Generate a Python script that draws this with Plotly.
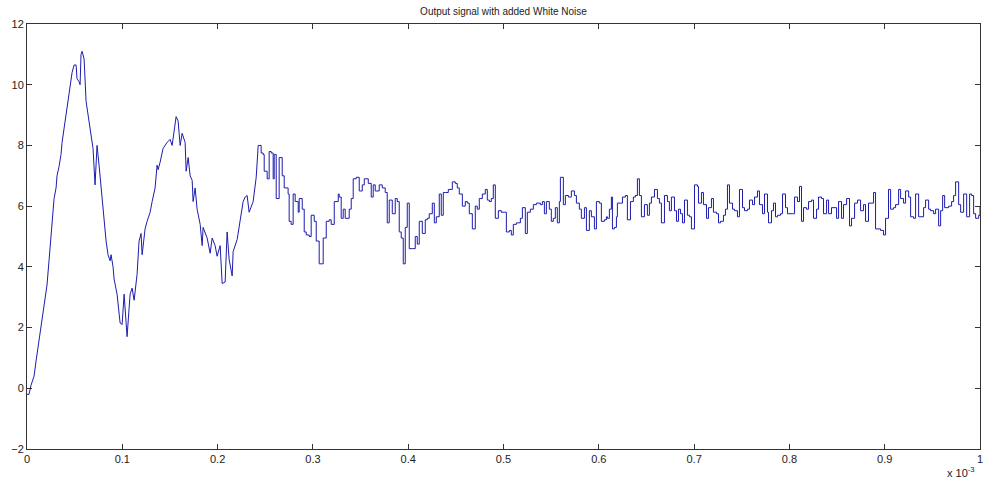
import plotly.graph_objects as go

# time in microseconds (axis shows seconds x 10^-3)
t_us = [0, 2.1, 4.2, 7.4, 9.5, 12.6, 14.7, 17.9, 21, 23.1, 25.2, 27.3, 28.4, 30.5, 31.5, 33.6, 35.7, 36.8, 38.9, 41,
        42, 44.1, 46.2, 47.3, 49.4, 51.5, 52.5, 54.6, 55.7, 56.7, 57.8, 59.9, 62, 64, 67.2, 69.3, 71.4, 73.5, 75.6, 78.8,
        80.9, 83, 85, 87.2, 88.2, 90.3, 91.4, 94.5, 97.7, 99.8, 101.9, 102.9, 105, 108.2, 110.3, 112.4, 115.5, 117.6, 119.7, 120.8,
        123.9, 126, 129.2, 131.3, 134.4, 136.5, 137.6, 139.7, 142.8, 147, 150.2, 152.3, 153.3, 156.5, 158.6, 160.7, 162.8, 165.9, 167, 169.1,
        171.2, 173.3, 174.3, 176.4, 178.5, 181.7, 183.8, 184.8, 189, 192.2, 194.3, 197.4, 199.5, 202.7, 204.8, 207.9, 210, 212.1, 215.3, 216.3,
        220.5, 223.7, 226.8, 228.9, 231, 233.1, 237.3, 240.5, 242.6, 245.7, 247.8, 248.9, 252, 254.1, 256.2, 258.3, 259.4, 261.5, 264.6, 267.8,
        269.9, 274, 275.1, 277.2, 279.3, 281.4, 284.6, 285.6, 288.8, 290.9, 293, 296.1, 298.2, 301.4, 303.5, 306.6, 309.8, 310.8, 314, 317.1,
        319.2, 322.4, 326.6, 327.6, 329.7, 331.8, 333.9, 338.1, 340.2, 342.3, 345.5, 348.6, 351.8, 353.9, 358.1, 361.2, 363.3, 365.4, 369.6, 372.8,
        375.9, 378, 380.1, 383.3, 386.4, 388.5, 390.6, 392.7, 394.8, 396.9, 399, 401.1, 404.3, 407.4, 409.5, 411.6, 414.8, 417.9, 420, 422.1,
        425.3, 427.4, 429.5, 432.6, 434.7, 436.8, 438.9, 442.1, 446.3, 449.4, 451.5, 453.6, 456.8, 459.9, 462, 464.1, 467.3, 470.4, 472.5, 474.6,
        477.8, 480.9, 483, 485.1, 487.2, 489.3, 491.4, 494.6, 497.7, 500.9, 503, 506.1, 508.2, 510.3, 513.5, 517.7, 519.8, 522.9, 525, 528.2,
        531.3, 534.5, 538.7, 540.8, 542.9, 545, 548.1, 550.2, 552.3, 554.4, 556.5, 558.6, 559.7, 562.8, 564.9, 568.1, 571.2, 574.4, 576.5, 579.6,
        581.7, 584.9, 587, 590.1, 592.2, 595.4, 597.5, 600.6, 602.7, 605.9, 608, 609, 611.1, 613.2, 614.3, 616.4, 618.5, 619.5, 622.7, 624.8,
        627.9, 630, 633.2, 636.3, 638.4, 640.5, 642.6, 644.7, 647.9, 651, 653.1, 655.2, 658.4, 661.5, 663.6, 665.7, 668.9, 672, 674.1, 676.2,
        679.4, 681.5, 683.6, 685.7, 687.8, 689.9, 693, 695.1, 697.2, 700.4, 703.5, 704.6, 707.7, 709.8, 713, 715.1, 718.2, 720.3, 723.5, 725.6,
        727.7, 730.8, 732.9, 735, 737.1, 740.3, 742.4, 745.5, 747.6, 750.8, 752.9, 756, 758.1, 761.3, 763.4, 766.5, 768.6, 771.8, 773.9, 777,
        778.1, 781.2, 783.3, 785.4, 787.5, 790.7, 792.8, 795.9, 798, 803.3, 805.4, 808.5, 810.6, 812.7, 814.8, 818, 820.1, 823.2, 825.3, 828.5,
        830.6, 833.7, 835.8, 839, 841.1, 844.2, 849.5, 851.6, 854.7, 856.8, 860, 863.1, 865.2, 868.4, 871.5, 874.7, 877.8, 879.9, 883, 888.3,
        890.4, 895.7, 898.8, 900.9, 904, 906.2, 909.3, 911.4, 914.6, 916.7, 919.8, 921.9, 925.1, 927.2, 930.3, 932.4, 935.6, 940.8, 942.9, 946.1,
        948.2, 951.3, 953.4, 956.6, 958.7, 960.8, 962.9, 967.1, 970.2, 972.3, 974.4, 977.6, 979.7, 982.8, 986, 989.1, 991.2, 993.3, 995.4, 998.6,
        1000]

signal = [-0.2, -0.2, 0.1, 0.4, 0.9, 1.55, 2.1, 2.7, 3.4, 4.2, 5.1, 5.8, 6.25, 6.6, 7.0, 7.3, 7.7, 8.1, 8.55, 9.0,
          9.3, 9.7, 10.1, 10.4, 10.65, 10.65, 10.2, 10.1, 10.0, 11.0, 11.1, 10.85, 9.45, 9.0, 8.45, 7.9, 6.7, 8.0, 7.35, 6.15,
          5.4, 4.85, 4.4, 4.2, 4.4, 4.0, 3.6, 3.1, 2.15, 2.1, 3.1, 2.7, 1.7, 3.1, 3.3, 2.9, 3.75, 4.85, 5.1, 4.4,
          5.25, 5.5, 5.8, 6.15, 6.6, 7.35, 7.2, 7.45, 7.9, 8.1, 8.2, 8.0, 8.2, 8.95, 8.8, 8.0, 8.4, 8.1, 7.15, 7.6,
          7.0, 6.85, 6.15, 6.6, 5.9, 5.4, 4.7, 5.3, 4.95, 4.45, 4.95, 4.7, 4.35, 4.7, 3.45, 3.5, 5.15, 4.25, 3.7, 4.5,
          4.9, 5.5, 6.15, 6.3, 6.35, 5.8, 6.15, 6.95, 8.0, 7.75, 7.7, 7.15, 6.9, 7.8, 7.75, 6.9, 7.7, 6.25, 7.6, 7.0,
          6.6, 6.4, 5.5, 5.4, 6.4, 6.15, 5.8, 6.25, 5.9, 5.15, 5.05, 5.0, 5.7, 5.5, 4.85, 4.1, 4.1, 4.95, 5.5, 5.55,
          5.4, 6.15, 6.4, 6.3, 5.6, 5.9, 5.6, 5.9, 6.25, 6.9, 6.95, 6.5, 6.7, 6.9, 6.75, 6.3, 6.7, 6.5, 6.7, 6.6,
          6.45, 5.45, 6.2, 5.75, 6.25, 6.15, 5.15, 4.95, 4.1, 5.3, 6.1, 4.6, 4.6, 5.0, 4.75, 5.5, 5.1, 5.55, 5.6, 5.75,
          6.1, 5.45, 5.65, 6.4, 5.7, 6.45, 6.45, 6.55, 6.8, 6.75, 6.6, 6.4, 6.0, 6.15, 6.1, 5.75, 5.25, 6.0, 5.9, 6.25,
          6.4, 6.55, 6.2, 6.15, 6.25, 6.7, 5.6, 5.85, 5.8, 5.8, 5.15, 5.2, 5.05, 5.4, 5.45, 5.6, 5.95, 5.1, 5.8, 5.9,
          6.05, 6.1, 6.05, 6.15, 5.75, 6.15, 5.9, 5.5, 5.6, 5.95, 5.45, 6.15, 6.95, 6.05, 6.35, 6.3, 6.5, 6.35, 6.1, 5.9,
          5.6, 5.95, 5.2, 5.85, 5.65, 5.25, 6.15, 6.1, 5.5, 5.55, 5.65, 5.6, 5.9, 6.3, 5.25, 5.3, 5.65, 6.1, 6.1, 6.3,
          6.35, 5.55, 6.15, 6.3, 6.35, 6.9, 6.35, 5.65, 6.05, 5.7, 6.1, 6.3, 6.55, 6.25, 6.1, 5.45, 6.35, 6.15, 5.85, 6.3,
          5.85, 5.5, 5.9, 5.75, 5.45, 6.2, 5.7, 5.65, 5.25, 6.7, 6.65, 6.1, 6.45, 6.05, 5.6, 5.95, 6.25, 5.8, 5.75, 5.45,
          5.5, 5.7, 5.9, 6.7, 6.1, 5.9, 5.85, 5.65, 6.55, 5.95, 5.85, 5.9, 6.2, 6.05, 6.3, 6.5, 6.05, 5.75, 6.4, 5.8,
          5.45, 5.85, 6.1, 5.65, 5.7, 5.75, 6.4, 5.95, 5.75, 5.75, 6.3, 6.15, 6.65, 5.5, 5.95, 5.9, 6.15, 6.2, 5.6, 5.9,
          6.3, 6.25, 5.75, 6.2, 5.75, 5.95, 5.6, 6.15, 5.6, 6.05, 6.25, 5.35, 5.6, 6.1, 6.2, 5.85, 6.05, 5.5, 6.1, 6.45,
          5.25, 5.2, 5.05, 5.6, 6.55, 5.9, 5.95, 6.05, 6.55, 6.25, 6.1, 6.5, 6.3, 5.65, 5.6, 6.4, 5.65, 5.95, 6.2, 5.9,
          5.85, 5.75, 5.9, 5.35, 5.85, 6.35, 5.95, 6.0, 6.15, 6.35, 6.8, 6.05, 5.8, 6.4, 5.65, 6.4, 6.35, 5.75, 5.6, 5.7,
          6.0]

x_ticks = [0, 0.1, 0.2, 0.3, 0.4, 0.5, 0.6, 0.7, 0.8, 0.9, 1]
x_tick_labels = ["0", "0.1", "0.2", "0.3", "0.4", "0.5", "0.6", "0.7", "0.8", "0.9", "1"]
y_ticks = [-2, 0, 2, 4, 6, 8, 10, 12]

# transient part drawn as a continuous line, settled noisy part as held steps
split_us = 242.6

t_ms = [v / 1000.0 for v in t_us]
k = t_us.index(split_us)

line_style = dict(color="rgb(28,28,175)", width=1)
fig = go.Figure()
fig.add_trace(go.Scatter(
    x=t_ms[:k + 1], y=signal[:k + 1], mode="lines",
    line=dict(**line_style, shape="linear"),
    hoverinfo="skip", showlegend=False,
))
fig.add_trace(go.Scatter(
    x=t_ms[k:], y=signal[k:], mode="lines",
    line=dict(**line_style, shape="hv"),
    hoverinfo="skip", showlegend=False,
))

axis_font = dict(family="Liberation Sans, Arial, sans-serif", size=11, color="#222222")
fig.update_layout(
    width=996, height=486,
    margin=dict(l=27, r=16, t=24, b=37),
    paper_bgcolor="white", plot_bgcolor="white",
    title=dict(text="Output signal with added White Noise", x=0.5, xref="paper",
               y=1, yref="paper", yanchor="bottom", pad=dict(b=9),
               font=dict(family="Liberation Sans, Arial, sans-serif", size=10, color="#222222")),
    xaxis=dict(range=[0, 1], tickvals=x_ticks, ticktext=x_tick_labels,
               showgrid=False, zeroline=False, showline=True, linecolor="#333333", linewidth=1,
               mirror="ticks", ticks="inside", ticklen=5, tickcolor="#333333", tickfont=axis_font),
    yaxis=dict(range=[-2, 12], tickvals=y_ticks,
               showgrid=False, zeroline=False, showline=True, linecolor="#333333", linewidth=1,
               mirror="ticks", ticks="inside", ticklen=5, tickcolor="#333333", tickfont=axis_font),
)
fig.add_annotation(text="x 10<sup>-3</sup>", xref="paper", yref="paper", x=1, y=0,
                   xanchor="right", yanchor="top", yshift=-14, xshift=-3, showarrow=False,
                   font=dict(family="Liberation Sans, Arial, sans-serif", size=11, color="#222222"))

fig.write_html("out.html")
